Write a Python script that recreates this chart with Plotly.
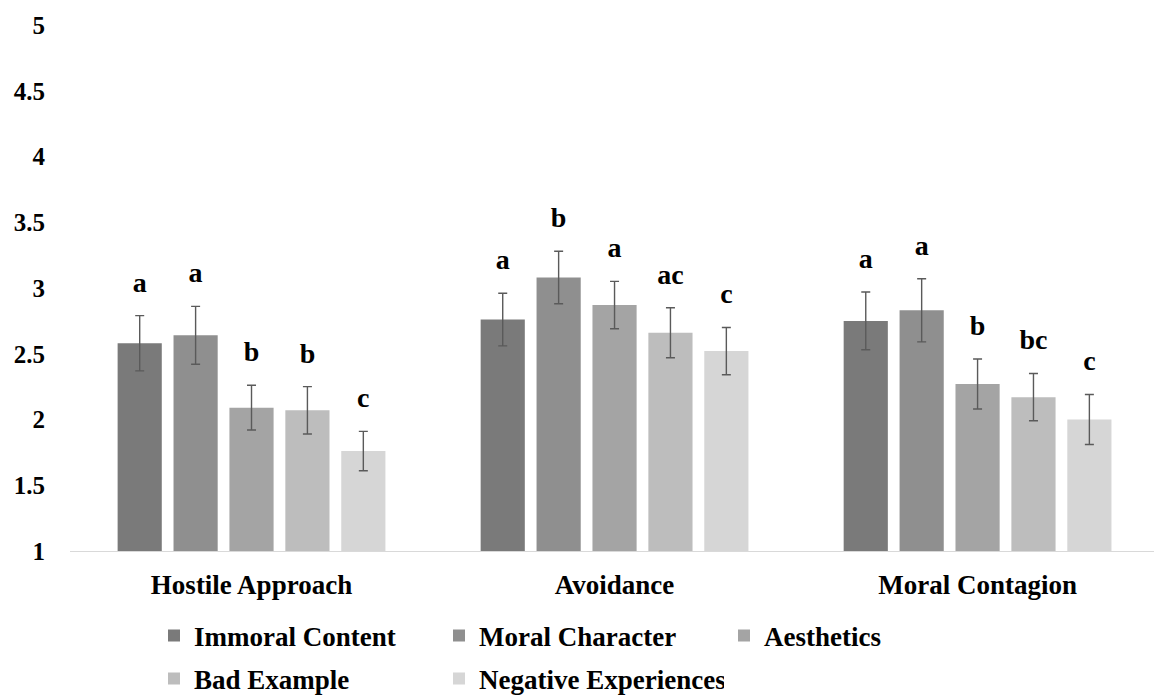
import plotly.graph_objects as go

# Mean ratings (1-5) with error-bar half-widths and significance letters
categories = ["Hostile Approach", "Avoidance", "Moral Contagion"]
series_names = ["Immoral Content", "Moral Character", "Aesthetics",
                "Bad Example", "Negative Experiences"]

immoral_content = [2.58, 2.76, 2.75]
moral_character = [2.64, 3.08, 2.83]
aesthetics = [2.09, 2.87, 2.27]
bad_example = [2.07, 2.66, 2.17]
negative_experiences = [1.76, 2.52, 2.00]

immoral_content_err = [0.21, 0.20, 0.22]
moral_character_err = [0.22, 0.20, 0.24]
aesthetics_err = [0.17, 0.18, 0.19]
bad_example_err = [0.18, 0.19, 0.18]
negative_experiences_err = [0.15, 0.18, 0.19]

immoral_content_sig = ["a", "a", "a"]
moral_character_sig = ["a", "b", "a"]
aesthetics_sig = ["b", "a", "b"]
bad_example_sig = ["b", "ac", "bc"]
negative_experiences_sig = ["c", "c", "c"]

y_ticks = [1, 1.5, 2, 2.5, 3, 3.5, 4, 4.5, 5]
y_tick_labels = ["1", "1.5", "2", "2.5", "3", "3.5", "4", "4.5", "5"]

means = [immoral_content, moral_character, aesthetics, bad_example, negative_experiences]
errors = [immoral_content_err, moral_character_err, aesthetics_err,
          bad_example_err, negative_experiences_err]
letters = [immoral_content_sig, moral_character_sig, aesthetics_sig,
           bad_example_sig, negative_experiences_sig]
colors = ["#7a7a7a", "#8f8f8f", "#a4a4a4", "#bdbdbd", "#d6d6d6"]

FONT = "Liberation Serif"
BAR_GAP = 0.23
LETTER_PAD = 0.13

fig = go.Figure()

for i, name in enumerate(series_names):
    fig.add_trace(go.Bar(
        x=categories, y=means[i], name=name,
        marker=dict(color=colors[i], line=dict(width=0)),
        error_y=dict(type="data", array=errors[i], visible=True,
                     color="#5a5a5a", thickness=1.4, width=4.5),
        offsetgroup=str(i),
        legend="legend" if i < 3 else "legend2",
        hoverinfo="skip",
    ))

# Significance letters above each error bar
for i, name in enumerate(series_names):
    tops = [m + e + LETTER_PAD for m, e in zip(means[i], errors[i])]
    fig.add_trace(go.Scatter(
        x=categories, y=tops, mode="text", text=letters[i],
        textposition="top center",
        textfont=dict(family=FONT, size=28, color="#000000", weight="bold"),
        offsetgroup=str(i), showlegend=False, hoverinfo="skip",
    ))

legend_font = dict(family=FONT, size=27, color="#000000", weight="bold")

fig.update_layout(
    width=1154, height=697,
    margin=dict(l=70, r=0, t=25, b=146),
    paper_bgcolor="white", plot_bgcolor="white",
    barmode="group", bargap=BAR_GAP, bargroupgap=0.21,
    scattermode="group", scattergap=BAR_GAP,
    font=dict(family=FONT, color="#000000"),
    legend=dict(
        orientation="h", xref="container", yref="container",
        x=154 / 1154, y=1 - 636 / 697, xanchor="left", yanchor="middle",
        entrywidth=240, entrywidthmode="pixels",
        font=legend_font, bgcolor="rgba(0,0,0,0)",
    ),
    legend2=dict(
        orientation="h", xref="container", yref="container",
        x=154 / 1154, y=1 - 679 / 697, xanchor="left", yanchor="middle",
        entrywidth=240, entrywidthmode="pixels",
        font=legend_font, bgcolor="rgba(0,0,0,0)",
    ),
)

fig.update_xaxes(
    range=[-0.5, 2.486],
    showline=True, linecolor="#d9d9d9", linewidth=1.3,
    showgrid=False, zeroline=False, ticks="",
    ticklabelstandoff=9,
    tickfont=dict(family=FONT, size=27, color="#000000", weight="bold"),
)
fig.update_yaxes(
    range=[1, 5], tickvals=y_ticks, ticktext=y_tick_labels,
    showline=False, showgrid=False, zeroline=False, ticks="",
    ticklabelstandoff=24,
    tickfont=dict(family=FONT, size=25, color="#000000", weight="bold"),
)

fig.write_html("out.html")
